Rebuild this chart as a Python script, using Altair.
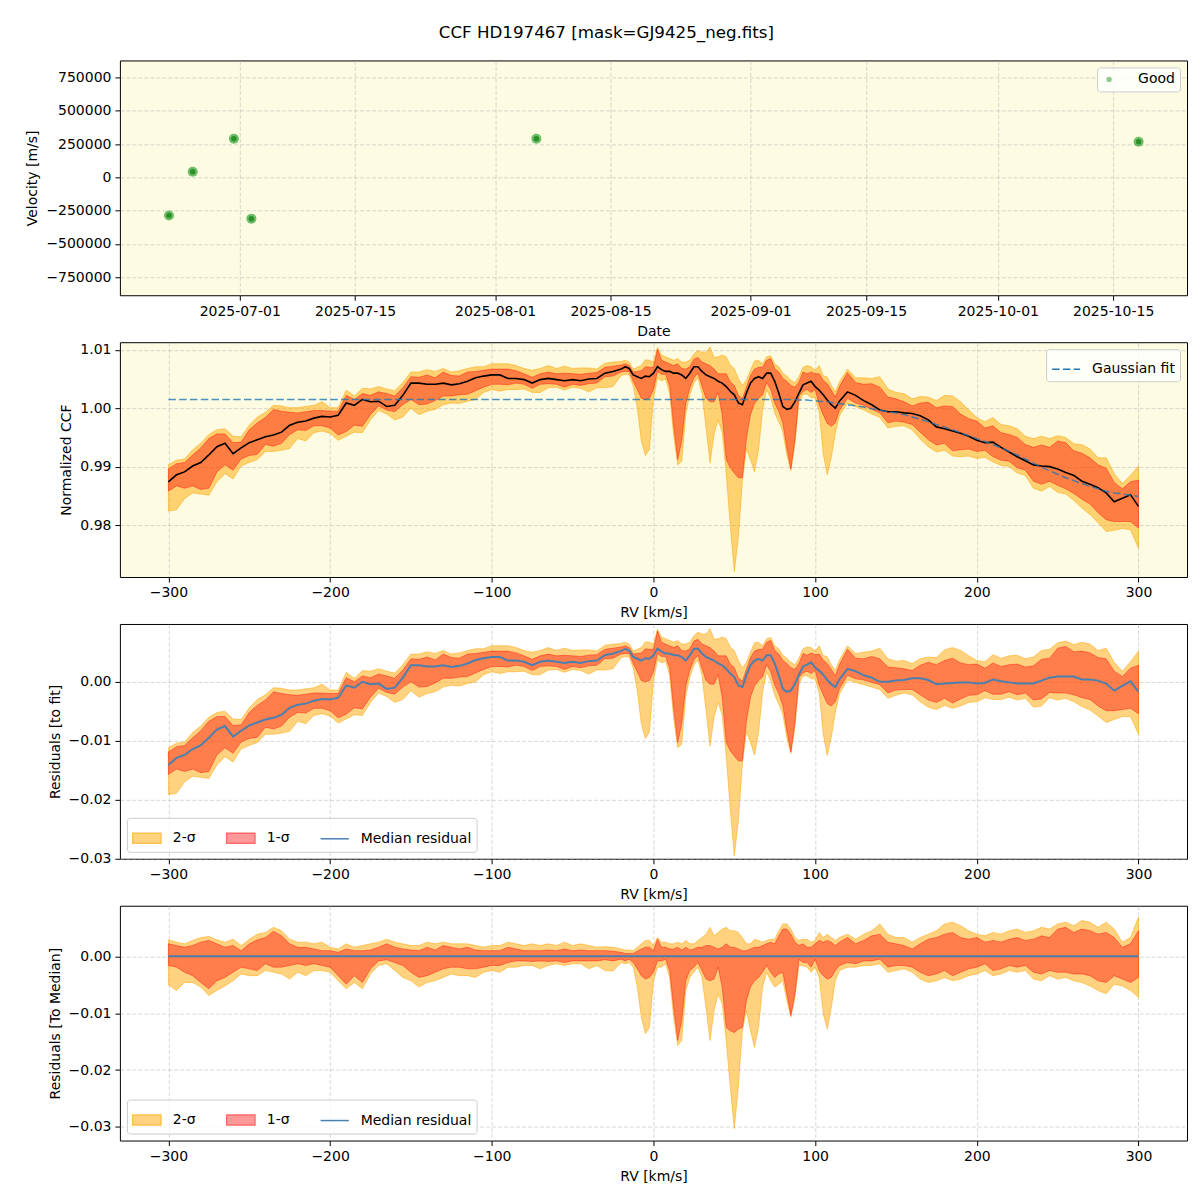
import altair as alt
import pandas as pd

FONT = "DejaVu Sans"

# ---------------- panel 1 : velocities ----------------
obs_dates = ["2025-06-22T10:00:00", "2025-06-25T07:00:00", "2025-06-30T07:00:00",
             "2025-07-02T10:00:00", "2025-08-06T00:00:00", "2025-10-18T02:00:00"]
obs_velocity = [-287000, 42700, 290000, -310000, 290000, 267700]
obs_status = ["Good", "Good", "Good", "Good", "Good", "Good"]
date_ticks = ["2025-07-01", "2025-07-15", "2025-08-01", "2025-08-15",
              "2025-09-01", "2025-09-15", "2025-10-01", "2025-10-15"]
date_range = ["2025-06-16T11", "2025-10-23T23"]
vel_ticks = [-750000, -500000, -250000, 0, 250000, 500000, 750000]
vel_range = [-885000, 877500]

# ---------------- panels 2-4 : CCF ----------------
rv = [-300, -295, -290, -285, -280, -275, -270, -265, -260, -255,
      -250, -245, -240, -235, -230, -225, -220, -215, -210, -205,
      -200, -195, -190, -185, -180, -175, -170, -165, -160, -155,
      -150, -145, -140, -135, -130, -125, -120, -115, -110, -105,
      -100, -95, -90, -85, -80, -75, -70, -65, -60, -55,
      -50, -45, -40, -35, -30, -25, -20,
      -17.5, -15, -12.5, -10, -7.5, -5, -2.5, 0, 2.5, 5,
      7.5, 10, 12.5, 15, 17.5, 20, 22.5, 25, 27.5, 30,
      32.5, 35, 37.5, 40, 42.5, 45, 47.5, 50, 52.5, 55,
      57.5, 60, 62.5, 65, 67.5, 70, 72.5, 75, 77.5, 80,
      82.5, 85, 87.5, 90, 92.5, 95, 97.5, 100, 102.5, 105,
      107.5, 110, 112.5, 115,
      120, 125, 130, 135, 140, 145, 150, 155, 160, 165,
      170, 175, 180, 185, 190, 195, 200, 205, 210, 215,
      220, 225, 230, 235, 240, 245, 250, 255, 260, 265,
      270, 275, 280, 285, 290, 295, 300]

ccf_median = [0.9874, 0.9886, 0.9891, 0.9901, 0.9907, 0.9920, 0.9934, 0.9940, 0.9922, 0.9932,
              0.9941, 0.9946, 0.9951, 0.9954, 0.9959, 0.9971, 0.9976, 0.9978, 0.9983, 0.9986,
              0.9985, 0.9988, 1.0009, 1.0005, 1.0015, 1.0011, 1.0012, 1.0003, 1.0005, 1.0022,
              1.0043, 1.0043, 1.0041, 1.0041, 1.0043, 1.0040, 1.0042, 1.0046, 1.0052, 1.0055,
              1.0057, 1.0057, 1.0051, 1.0051, 1.0049, 1.0043, 1.0049, 1.0051, 1.0049, 1.0047,
              1.0049, 1.0047, 1.0050, 1.0051, 1.0060, 1.0063, 1.0067,
              1.0071, 1.0068, 1.0057, 1.0054, 1.0051, 1.0055, 1.0054, 1.0060, 1.0071, 1.0066,
              1.0063, 1.0063, 1.0060, 1.0060, 1.0057, 1.0051, 1.0060, 1.0071, 1.0071, 1.0063,
              1.0057, 1.0054, 1.0051, 1.0046, 1.0043, 1.0037, 1.0029, 1.0023, 1.0009, 1.0006,
              1.0026, 1.0043, 1.0051, 1.0054, 1.0051, 1.0060, 1.0060, 1.0046, 1.0026, 1.0003,
              0.9998, 1.0000, 1.0011, 1.0026, 1.0040, 1.0043, 1.0046, 1.0037, 1.0031, 1.0023,
              1.0014, 1.0006, 1.0000, 1.0012,
              1.0028, 1.0022, 1.0013, 1.0006, 0.9997, 0.9994, 0.9994, 0.9992, 0.9991, 0.9987,
              0.9980, 0.9968, 0.9965, 0.9961, 0.9957, 0.9952, 0.9945, 0.9941, 0.9942, 0.9933,
              0.9925, 0.9917, 0.9910, 0.9903, 0.9901, 0.9900, 0.9896, 0.9890, 0.9885, 0.9875,
              0.9870, 0.9864, 0.9855, 0.9840, 0.9846, 0.9852, 0.9832]

gauss_fit = [1.0015, 1.0015, 1.0015, 1.0015, 1.0015, 1.0015, 1.0015, 1.0015, 1.0015, 1.0015,
             1.0015, 1.0015, 1.0015, 1.0015, 1.0015, 1.0015, 1.0015, 1.0015, 1.0015, 1.0015,
             1.0015, 1.0015, 1.0015, 1.0015, 1.0015, 1.0015, 1.0015, 1.0015, 1.0015, 1.0015,
             1.0015, 1.0015, 1.0015, 1.0015, 1.0015, 1.0015, 1.0015, 1.0015, 1.0015, 1.0015,
             1.0015, 1.0015, 1.0015, 1.0015, 1.0015, 1.0015, 1.0015, 1.0015, 1.0015, 1.0015,
             1.0015, 1.0015, 1.0015, 1.0015, 1.0015, 1.0015, 1.0015,
             1.0015, 1.0015, 1.0015, 1.0015, 1.0015, 1.0015, 1.0015, 1.0015, 1.0015, 1.0015,
             1.0015, 1.0015, 1.0015, 1.0015, 1.0015, 1.0015, 1.0015, 1.0015, 1.0015, 1.0015,
             1.0015, 1.0015, 1.0015, 1.0015, 1.0015, 1.0015, 1.0015, 1.0015, 1.0015, 1.0015,
             1.0015, 1.0015, 1.0015, 1.0015, 1.0015, 1.0015, 1.0015, 1.0015, 1.0015, 1.0015,
             1.0015, 1.0015, 1.0015, 1.0014, 1.0014, 1.0014, 1.0013, 1.0013, 1.0012, 1.0011,
             1.0011, 1.0010, 1.0009, 1.0008,
             1.0006, 1.0004, 1.0002, 0.9999, 0.9997, 0.9994, 0.9992, 0.9989, 0.9985, 0.9981,
             0.9977, 0.9972, 0.9968, 0.9963, 0.9958, 0.9953, 0.9948, 0.9943, 0.9938, 0.9932,
             0.9926, 0.9920, 0.9913, 0.9906, 0.9899, 0.9893, 0.9887, 0.9881, 0.9876, 0.9871,
             0.9866, 0.9862, 0.9858, 0.9855, 0.9853, 0.9851, 0.9849]

# band edges relative to the median CCF
band_up2 = [0.0029, 0.0025, 0.0022, 0.0028, 0.0033, 0.0035, 0.0029, 0.0025, 0.0030, 0.0019,
            0.0030, 0.0039, 0.0042, 0.0051, 0.0045, 0.0030, 0.0025, 0.0025, 0.0022, 0.0025,
            0.0016, 0.0013, 0.0022, 0.0016, 0.0019, 0.0022, 0.0025, 0.0030, 0.0025, 0.0022,
            0.0019, 0.0019, 0.0025, 0.0022, 0.0025, 0.0022, 0.0022, 0.0022, 0.0019, 0.0016,
            0.0019, 0.0019, 0.0025, 0.0022, 0.0019, 0.0022, 0.0019, 0.0022, 0.0019, 0.0025,
            0.0019, 0.0022, 0.0019, 0.0016, 0.0017, 0.0016, 0.0013,
            0.0011, 0.0011, 0.0010, 0.0016, 0.0022, 0.0028, 0.0028, 0.0019, 0.0033, 0.0025,
            0.0025, 0.0022, 0.0022, 0.0025, 0.0022, 0.0028, 0.0022, 0.0022, 0.0028, 0.0033,
            0.0039, 0.0051, 0.0036, 0.0042, 0.0048, 0.0051, 0.0045, 0.0045, 0.0042, 0.0033,
            0.0022, 0.0022, 0.0030, 0.0028, 0.0025, 0.0028, 0.0030, 0.0030, 0.0045, 0.0057,
            0.0057, 0.0048, 0.0033, 0.0028, 0.0030, 0.0030, 0.0025, 0.0028, 0.0042, 0.0033,
            0.0039, 0.0033, 0.0028, 0.0033,
            0.0039, 0.0030, 0.0039, 0.0045, 0.0057, 0.0039, 0.0033, 0.0033, 0.0025, 0.0033,
            0.0039, 0.0045, 0.0057, 0.0060, 0.0054, 0.0045, 0.0039, 0.0036, 0.0042, 0.0039,
            0.0045, 0.0048, 0.0042, 0.0045, 0.0051, 0.0048, 0.0057, 0.0060, 0.0054, 0.0063,
            0.0060, 0.0051, 0.0060, 0.0048, 0.0025, 0.0033, 0.0069]

band_up1 = [0.0022, 0.0019, 0.0016, 0.0019, 0.0025, 0.0028, 0.0022, 0.0016, 0.0019, 0.0010,
            0.0022, 0.0029, 0.0033, 0.0044, 0.0036, 0.0022, 0.0016, 0.0016, 0.0013, 0.0010,
            0.0010, 0.0007, 0.0013, 0.0010, 0.0010, 0.0011, 0.0016, 0.0022, 0.0016, 0.0013,
            0.0011, 0.0010, 0.0016, 0.0011, 0.0019, 0.0016, 0.0013, 0.0016, 0.0011, 0.0010,
            0.0010, 0.0010, 0.0016, 0.0013, 0.0010, 0.0010, 0.0010, 0.0011, 0.0010, 0.0013,
            0.0010, 0.0011, 0.0010, 0.0010, 0.0010, 0.0009, 0.0007,
            0.0005, 0.0005, 0.0005, 0.0009, 0.0013, 0.0016, 0.0016, 0.0010, 0.0030, 0.0016,
            0.0016, 0.0013, 0.0013, 0.0016, 0.0011, 0.0016, 0.0011, 0.0013, 0.0016, 0.0016,
            0.0019, 0.0019, 0.0016, 0.0013, 0.0016, 0.0022, 0.0016, 0.0016, 0.0013, 0.0010,
            0.0010, 0.0013, 0.0016, 0.0016, 0.0019, 0.0022, 0.0025, 0.0022, 0.0036, 0.0048,
            0.0048, 0.0039, 0.0025, 0.0019, 0.0022, 0.0016, 0.0016, 0.0022, 0.0028, 0.0025,
            0.0028, 0.0025, 0.0019, 0.0025,
            0.0033, 0.0022, 0.0028, 0.0036, 0.0039, 0.0025, 0.0022, 0.0019, 0.0013, 0.0022,
            0.0030, 0.0033, 0.0039, 0.0042, 0.0033, 0.0030, 0.0033, 0.0025, 0.0028, 0.0025,
            0.0030, 0.0033, 0.0028, 0.0030, 0.0036, 0.0033, 0.0048, 0.0051, 0.0042, 0.0048,
            0.0045, 0.0039, 0.0042, 0.0033, 0.0016, 0.0022, 0.0045]

band_lo1 = [-0.0016, -0.0019, -0.0028, -0.0034, -0.0046, -0.0057, -0.0043, -0.0037, -0.0028, -0.0019,
            -0.0022, -0.0025, -0.0013, -0.0019, -0.0019, -0.0016, -0.0013, -0.0016, -0.0013, -0.0016,
            -0.0019, -0.0034, -0.0049, -0.0034, -0.0046, -0.0022, -0.0008, -0.0006, -0.0011, -0.0016,
            -0.0028, -0.0037, -0.0034, -0.0028, -0.0022, -0.0019, -0.0019, -0.0022, -0.0022, -0.0019,
            -0.0016, -0.0016, -0.0011, -0.0008, -0.0008, -0.0009, -0.0008, -0.0009, -0.0008, -0.0011,
            -0.0008, -0.0008, -0.0008, -0.0008, -0.0006, -0.0008, -0.0005,
            -0.0008, -0.0005, -0.0011, -0.0022, -0.0034, -0.0040, -0.0037, -0.0028, -0.0008, -0.0008,
            -0.0005, -0.0025, -0.0090, -0.0148, -0.0113, -0.0043, -0.0025, -0.0019, -0.0011, -0.0025,
            -0.0040, -0.0043, -0.0040, -0.0019, -0.0054, -0.0125, -0.0131, -0.0134, -0.0128, -0.0125,
            -0.0078, -0.0054, -0.0043, -0.0037, -0.0028, -0.0016, -0.0028, -0.0037, -0.0031, -0.0028,
            -0.0066, -0.0104, -0.0066, -0.0005, -0.0011, -0.0011, -0.0019, -0.0005, -0.0025, -0.0034,
            -0.0040, -0.0037, -0.0025, -0.0016,
            -0.0011, -0.0013, -0.0008, -0.0008, -0.0005, -0.0019, -0.0016, -0.0016, -0.0019, -0.0028,
            -0.0034, -0.0031, -0.0025, -0.0034, -0.0028, -0.0022, -0.0019, -0.0013, -0.0025, -0.0022,
            -0.0016, -0.0019, -0.0016, -0.0028, -0.0031, -0.0025, -0.0028, -0.0028, -0.0031, -0.0031,
            -0.0034, -0.0043, -0.0046, -0.0034, -0.0040, -0.0046, -0.0037]

band_lo2 = [-0.0050, -0.0060, -0.0046, -0.0046, -0.0054, -0.0069, -0.0060, -0.0052, -0.0043, -0.0031,
            -0.0034, -0.0034, -0.0025, -0.0028, -0.0031, -0.0040, -0.0028, -0.0034, -0.0025, -0.0025,
            -0.0028, -0.0043, -0.0057, -0.0046, -0.0057, -0.0031, -0.0016, -0.0013, -0.0025, -0.0037,
            -0.0043, -0.0054, -0.0046, -0.0043, -0.0037, -0.0031, -0.0034, -0.0034, -0.0037, -0.0028,
            -0.0025, -0.0028, -0.0019, -0.0019, -0.0016, -0.0016, -0.0022, -0.0016, -0.0013, -0.0016,
            -0.0013, -0.0013, -0.0022, -0.0016, -0.0025, -0.0026, -0.0011,
            -0.0013, -0.0011, -0.0019, -0.0054, -0.0107, -0.0136, -0.0125, -0.0043, -0.0019, -0.0019,
            -0.0013, -0.0037, -0.0107, -0.0157, -0.0148, -0.0060, -0.0037, -0.0028, -0.0019, -0.0037,
            -0.0090, -0.0148, -0.0095, -0.0066, -0.0084, -0.0148, -0.0230, -0.0303, -0.0230, -0.0131,
            -0.0095, -0.0131, -0.0160, -0.0125, -0.0054, -0.0028, -0.0043, -0.0054, -0.0049, -0.0043,
            -0.0078, -0.0107, -0.0072, -0.0016, -0.0016, -0.0019, -0.0028, -0.0019, -0.0037, -0.0101,
            -0.0128, -0.0090, -0.0043, -0.0025,
            -0.0019, -0.0019, -0.0016, -0.0016, -0.0013, -0.0028, -0.0025, -0.0022, -0.0028, -0.0040,
            -0.0046, -0.0043, -0.0037, -0.0043, -0.0040, -0.0034, -0.0031, -0.0025, -0.0034, -0.0031,
            -0.0025, -0.0028, -0.0025, -0.0040, -0.0043, -0.0034, -0.0040, -0.0037, -0.0043, -0.0046,
            -0.0052, -0.0060, -0.0066, -0.0049, -0.0052, -0.0060, -0.0072]

rv_ticks = [-300, -200, -100, 0, 100, 200, 300]
rv_range = [-330, 330]
ccf_ticks = [0.98, 0.99, 1.00, 1.01]
ccf_range = [0.9711, 1.0113]
res_ticks = [-0.03, -0.02, -0.01, 0.00]
res_range = [-0.0300, 0.0098]
med_range = [-0.0324, 0.0089]
band_labels = ["2-σ", "1-σ", "Median residual"]

ORANGE = "#ffa500"
RED = "#ff0000"
BLUE = "#4a80b0"
W, H = 1068, 235


def dt(s):
    ymd = s[:10].split("-")
    hrs = int(s[11:13]) if len(s) > 10 else 0
    return alt.DateTime(year=int(ymd[0]), month=int(ymd[1]), date=int(ymd[2]), hours=hrs)


def box_legend(orient, **kw):
    return alt.Legend(title=None, orient=orient, offset=7, padding=5,
                      fillColor="rgba(255,255,255,0.8)", strokeColor="#cccccc",
                      cornerRadius=3, labelFont=FONT, labelFontSize=14, labelColor="black",
                      **kw)


# ---------------- panel 1 ----------------
df1 = pd.DataFrame({"date": obs_dates, "vel": obs_velocity, "status": obs_status})
x1 = alt.X("date:T", title="Date",
           scale=alt.Scale(domain=[dt(date_range[0]), dt(date_range[1])]),
           axis=alt.Axis(values=[dt(s) for s in date_ticks], format="%Y-%m-%d"))
y1 = alt.Y("vel:Q", title="Velocity [m/s]",
           scale=alt.Scale(domain=vel_range, nice=False, zero=False),
           axis=alt.Axis(values=vel_ticks, format="d"))
good_legend = box_legend("top-right", symbolType="circle", symbolSize=28,
                         symbolOpacity=0.6, labelOffset=22)
outer = alt.Chart(df1).mark_circle(size=100, opacity=0.75).encode(
    x=x1, y=y1,
    color=alt.Color("status:N", scale=alt.Scale(domain=["Good"], range=["#3fa83f"]),
                    legend=good_legend))
inner = alt.Chart(df1).mark_circle(size=30, color="#238a23", opacity=0.9).encode(x=x1, y=y1)
p1 = alt.layer(outer, inner).properties(width=W, height=H)

# ---------------- panels 2-4 ----------------
df = pd.DataFrame({"rv": rv, "med": ccf_median, "fit": gauss_fit,
                   "up2": band_up2, "up1": band_up1, "lo1": band_lo1, "lo2": band_lo2})
df["c_up2"] = df["med"] + df["up2"]
df["c_up1"] = df["med"] + df["up1"]
df["c_lo1"] = df["med"] + df["lo1"]
df["c_lo2"] = df["med"] + df["lo2"]
df["res"] = df["med"] - df["fit"]
df["r_up2"] = df["res"] + df["up2"]
df["r_up1"] = df["res"] + df["up1"]
df["r_lo1"] = df["res"] + df["lo1"]
df["r_lo2"] = df["res"] + df["lo2"]
df["zero"] = df["med"] - df["med"]

xrv = alt.X("rv:Q", title="RV [km/s]",
            scale=alt.Scale(domain=rv_range, nice=False, zero=False),
            axis=alt.Axis(values=rv_ticks, format="d"))


def yenc(field, title, rng, ticks):
    return alt.Y(field, title=title, scale=alt.Scale(domain=rng, nice=False, zero=False),
                 axis=alt.Axis(values=ticks, format=".2f"))


def bands(lo2, up2, lo1, up1, title, rng, ticks):
    base = alt.Chart(df)
    a2 = base.mark_area(fill=ORANGE, fillOpacity=0.5, stroke=ORANGE, strokeOpacity=0.5,
                        strokeWidth=1, clip=True).encode(
        x=xrv, y=yenc(lo2 + ":Q", title, rng, ticks), y2=up2 + ":Q")
    a1 = base.mark_area(fill=RED, fillOpacity=0.4, stroke=RED, strokeOpacity=0.4,
                        strokeWidth=1, clip=True).encode(
        x=xrv, y=yenc(lo1 + ":Q", title, rng, ticks), y2=up1 + ":Q")
    return base, a2, a1


RECT = "M-1,-0.36H1V0.36H-1Z"
LINE = "M-1,0H1"


def band_key():
    leg = box_legend("bottom-left", direction="horizontal", columns=3, symbolSize=800,
                     symbolStrokeWidth=1.5, symbolOpacity=1, labelOffset=11,
                     columnPadding=27)
    kdf = pd.DataFrame({"band": band_labels})
    return alt.Chart(kdf).mark_point(filled=True, opacity=0).encode(
        fill=alt.Fill("band:N", sort=band_labels, legend=leg,
                      scale=alt.Scale(domain=band_labels,
                                      range=["#ffd280", "#ff9999", "transparent"])),
        stroke=alt.Stroke("band:N", sort=band_labels, legend=leg,
                          scale=alt.Scale(domain=band_labels,
                                          range=["#ffc24f", "#ff6b6b", BLUE])),
        shape=alt.Shape("band:N", sort=band_labels, legend=leg,
                        scale=alt.Scale(domain=band_labels, range=[RECT, RECT, LINE])),
    )


# panel 2
base2, a2, a1 = bands("c_lo2", "c_up2", "c_lo1", "c_up1", "Normalized CCF", ccf_range, ccf_ticks)
med_line = base2.mark_line(color="black", strokeWidth=1.6, clip=True).encode(
    x=xrv, y=yenc("med:Q", "Normalized CCF", ccf_range, ccf_ticks))
fit_legend = box_legend("top-right", symbolType="stroke", symbolSize=784,
                        symbolStrokeWidth=1.5, symbolDash=[7.5, 3.3], labelOffset=11)
fit_line = base2.transform_calculate(lab="'Gaussian fit'").mark_line(
    strokeDash=[7.5, 3.3], strokeWidth=1.5, strokeOpacity=0.8, clip=True).encode(
    x=xrv, y=yenc("fit:Q", "Normalized CCF", ccf_range, ccf_ticks),
    stroke=alt.Stroke("lab:N", scale=alt.Scale(domain=["Gaussian fit"], range=["#1f77b4"]),
                      legend=fit_legend))
p2 = alt.layer(a2, a1, med_line, fit_line).properties(width=W, height=H)

# panel 3
base3, b2, b1 = bands("r_lo2", "r_up2", "r_lo1", "r_up1", "Residuals [to fit]", res_range, res_ticks)
res_line = base3.mark_line(color=BLUE, strokeWidth=2, clip=True).encode(
    x=xrv, y=yenc("res:Q", "Residuals [to fit]", res_range, res_ticks))
p3 = alt.layer(b2, b1, res_line, band_key()).properties(width=W, height=H)

# panel 4
base4, d2, d1 = bands("lo2", "up2", "lo1", "up1", "Residuals [To Median]", med_range, res_ticks)
zero_line = base4.mark_line(color=BLUE, strokeWidth=2, clip=True).encode(
    x=xrv, y=yenc("zero:Q", "Residuals [To Median]", med_range, res_ticks))
p4 = alt.layer(d2, d1, zero_line, band_key()).properties(width=W, height=H)

chart = alt.vconcat(p1, p2, p3, p4, spacing=47, bounds="flush").resolve_scale(
    x="independent", y="independent", color="independent", fill="independent",
    stroke="independent", shape="independent").resolve_legend(
    color="independent", fill="independent", stroke="independent",
    shape="independent").properties(
    title=alt.TitleParams("CCF HD197467 [mask=GJ9425_neg.fits]", font=FONT, fontSize=16.7,
                          fontWeight="normal", color="black", anchor="middle", offset=18),
    padding={"left": 25, "top": 24, "right": 12, "bottom": 5},
    background="white",
).configure_axis(
    labelFont=FONT, labelFontSize=14, labelColor="black",
    titleFont=FONT, titleFontSize=14, titleFontWeight="normal", titleColor="black",
    tickColor="black", tickSize=5, tickWidth=1, domain=False,
    grid=True, gridColor="#aaaaaa", gridOpacity=0.6, gridDash=[4, 2], gridWidth=0.8,
    labelPadding=4, titlePadding=6, labelFlush=False, labelOverlap=False,
).configure_view(stroke="black", strokeWidth=1, fill="#fdfce3")

chart.save("out.html", embed_options={"renderer": "svg", "actions": False})
